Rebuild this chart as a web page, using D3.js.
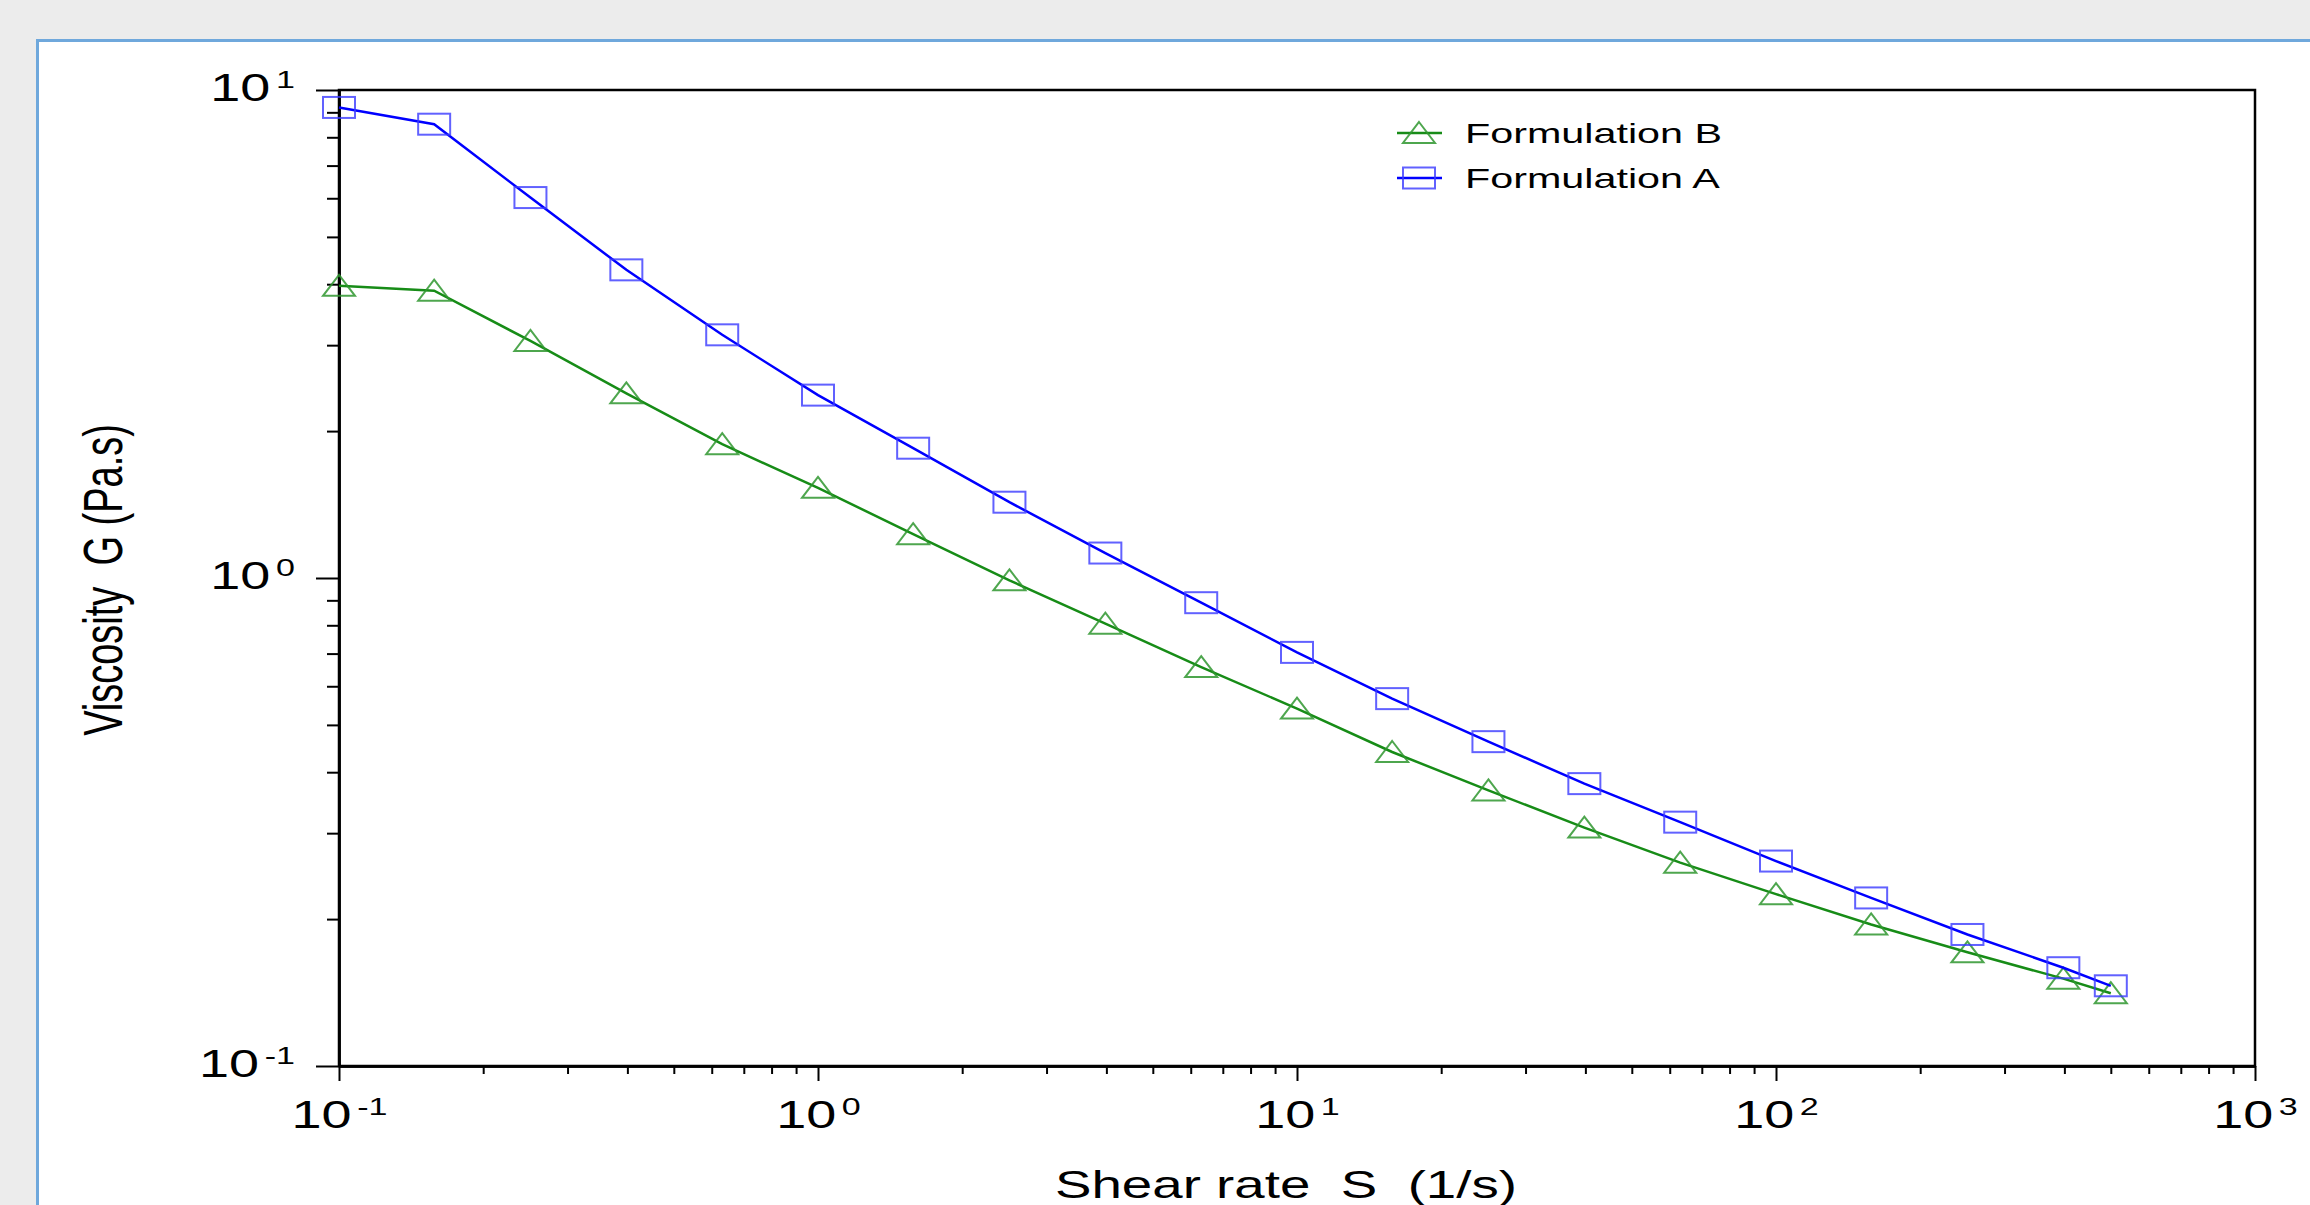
<!DOCTYPE html>
<html>
<head>
<meta charset="utf-8">
<script src="https://cdn.jsdelivr.net/npm/d3@7"></script>
<style>
  html, body { margin: 0; padding: 0; background: #ececec; overflow: hidden; }
  svg { display: block; }
  text { font-family: "Liberation Sans", Arial, sans-serif; fill: #000; }
</style>
</head>
<body>
<script>
// shear rate (1/s), 5 points per decade + last point
const shearRate = [0.1, 0.158, 0.251, 0.398, 0.631, 1, 1.58, 2.51, 3.98, 6.31,
    10, 15.8, 25.1, 39.8, 63.1, 100, 158, 251, 398, 500];

// viscosity (Pa.s)
const formulationA = [9.21, 8.51, 6.02, 4.28, 3.15, 2.37, 1.845, 1.43, 1.125, 0.89,
    0.704, 0.566, 0.462, 0.379, 0.316, 0.263, 0.221, 0.186, 0.159, 0.146];
const formulationB = [3.97, 3.88, 3.06, 2.39, 1.88, 1.53, 1.23, 0.989, 0.806, 0.657,
    0.540, 0.440, 0.367, 0.308, 0.261, 0.225, 0.195, 0.171, 0.151, 0.141];

const xExponents = [-1, 0, 1, 2, 3];
const yExponents = [-1, 0, 1];

const W = 2310, H = 1205;
const plot = {left: 339, right: 2255, top: 90, bottom: 1066};
const stretch = 1.42; // the original figure is stretched horizontally

const series = [
    {name: 'Formulation B', values: formulationB, line: '#178c17', marker: '#2f962f', shape: 'tri'},
    {name: 'Formulation A', values: formulationA, line: '#0000ff', marker: '#3a3aff', shape: 'rect'}
];

const svg = d3.select('body').append('svg')
    .attr('width', W)
    .attr('height', H);

// white panel with light blue border
svg.append('rect')
    .attr('x', 37.5).attr('y', 40.5)
    .attr('width', W).attr('height', H)
    .attr('fill', '#fff')
    .attr('stroke', '#6fa8dc')
    .attr('stroke-width', 3);

const x = d3.scaleLog().domain([0.1, 1000]).range([plot.left, plot.right]);
const y = d3.scaleLog().domain([0.1, 10]).range([plot.bottom, plot.top]);

const minors = (lo, hi) => {
    const out = [];
    for (let e = lo; e < hi; e++)
        for (let m = 2; m <= 9; m++) out.push(m * Math.pow(10, e));
    return out;
};

function powLabel(sel, exp) {
    const t = sel.append('text').attr('font-size', 38);
    t.append('tspan').text('10');
    t.append('tspan').attr('font-size', 24).attr('dx', 4).attr('dy', -13).text(exp);
    return t;
}

// x axis
const gx = svg.append('g').attr('transform', `translate(0,${plot.bottom})`);
gx.append('g').call(d3.axisBottom(x).tickValues(minors(-1, 3)).tickSize(8).tickSizeOuter(0).tickFormat(''));
const gxMajor = gx.append('g').call(d3.axisBottom(x)
    .tickValues(xExponents.map(e => Math.pow(10, e)))
    .tickSize(15).tickSizeOuter(0).tickFormat(''));
gxMajor.selectAll('.tick').each(function(d, i) {
    const g = d3.select(this).append('g')
        .attr('transform', `translate(0,62) scale(${stretch},1)`);
    powLabel(g, xExponents[i]).attr('text-anchor', 'middle');
});

// y axis
const gy = svg.append('g').attr('transform', `translate(${plot.left},0)`);
gy.append('g').call(d3.axisLeft(y).tickValues(minors(-1, 1)).tickSize(12).tickSizeOuter(0).tickFormat(''));
const gyMajor = gy.append('g').call(d3.axisLeft(y)
    .tickValues(yExponents.map(e => Math.pow(10, e)))
    .tickSize(23).tickSizeOuter(0).tickFormat(''));
gyMajor.selectAll('.tick').each(function(d, i) {
    const g = d3.select(this).append('g')
        .attr('transform', `translate(-44,10) scale(${stretch},1)`);
    powLabel(g, yExponents[i]).attr('text-anchor', 'end');
});

svg.selectAll('.domain').attr('stroke', '#000').attr('stroke-width', 2.5);
svg.selectAll('.tick line').attr('stroke', '#000').attr('stroke-width', 2);

// plot frame
svg.append('rect')
    .attr('x', plot.left).attr('y', plot.top)
    .attr('width', plot.right - plot.left)
    .attr('height', plot.bottom - plot.top)
    .attr('fill', 'none')
    .attr('stroke', '#000')
    .attr('stroke-width', 2.5);

// axis titles
svg.append('g')
    .attr('transform', `translate(1286,1198) scale(1.44,1)`)
    .append('text')
    .attr('text-anchor', 'middle')
    .attr('font-size', 38)
    .style('white-space', 'pre')
    .text('Shear rate  S  (1/s)');

svg.append('g')
    .attr('transform', `translate(122,580) rotate(-90) scale(1,1.45)`)
    .append('text')
    .attr('text-anchor', 'middle')
    .attr('font-size', 38)
    .style('white-space', 'pre')
    .text('Viscosity  G (Pa.s)');

// markers
const tri = 'M0,-11L16,10L-16,10Z';
function drawMarker(g, s, cx, cy) {
    if (s.shape === 'rect') {
        g.append('rect')
            .attr('x', cx - 16).attr('y', cy - 10.5)
            .attr('width', 32).attr('height', 21)
            .attr('fill', 'none')
            .attr('stroke', s.marker)
            .attr('stroke-opacity', 0.8)
            .attr('stroke-width', 2);
    } else {
        g.append('path')
            .attr('d', tri)
            .attr('transform', `translate(${cx},${cy})`)
            .attr('fill', 'none')
            .attr('stroke', s.marker)
            .attr('stroke-opacity', 0.85)
            .attr('stroke-width', 2);
    }
}

const line = d3.line()
    .x(d => x(d[0]))
    .y(d => y(d[1]));

series.forEach(s => {
    const pts = shearRate.map((r, i) => [r, s.values[i]]);
    const g = svg.append('g');
    g.append('path')
        .datum(pts)
        .attr('d', line)
        .attr('fill', 'none')
        .attr('stroke', s.line)
        .attr('stroke-width', 2.5);
    pts.forEach(p => drawMarker(g, s, x(p[0]), y(p[1])));
});

// legend
series.forEach((s, i) => {
    const ly = 133 + 45 * i;
    const g = svg.append('g');
    g.append('line')
        .attr('x1', 1397).attr('x2', 1442)
        .attr('y1', ly).attr('y2', ly)
        .attr('stroke', s.line)
        .attr('stroke-width', 2.5);
    drawMarker(g, s, 1419, ly);
    g.append('g')
        .attr('transform', `translate(1465,${ly + 10}) scale(1.53,1)`)
        .append('text')
        .attr('font-size', 27)
        .text(s.name);
});
</script>
</body>
</html>
